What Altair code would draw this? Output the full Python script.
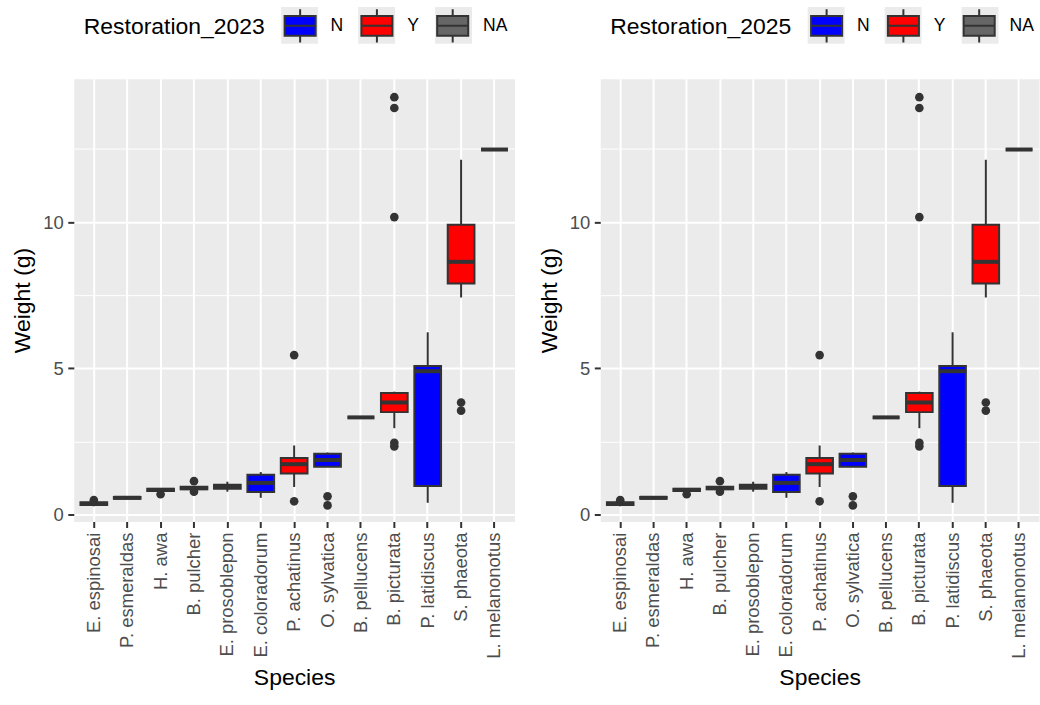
import altair as alt
import pandas as pd

# ---------------- data ----------------
species = ["E. espinosai", "P. esmeraldas", "H. awa", "B. pulcher", "E. prosoblepon",
           "E. coloradorum", "P. achatinus", "O. sylvatica", "B. pellucens",
           "B. picturata", "P. latidiscus", "S. phaeota", "L. melanonotus"]
restoration = ["NA", "NA", "NA", "NA", "NA", "N", "Y", "N", "NA", "Y", "N", "Y", "NA"]
whisker_low = [0.28, 0.53, 0.78, 0.84, 0.78, 0.57, 0.94, 1.63, 3.32, 2.95, 0.40, 7.42, 12.48]
q1 =          [0.32, 0.54, 0.80, 0.86, 0.88, 0.77, 1.40, 1.63, 3.32, 3.50, 0.97, 7.90, 12.48]
median =      [0.36, 0.57, 0.84, 0.90, 0.95, 1.08, 1.72, 1.86, 3.32, 3.83, 4.90, 8.64, 12.48]
q3 =          [0.42, 0.60, 0.88, 0.95, 1.02, 1.36, 1.93, 2.08, 3.32, 4.15, 5.08, 9.91, 12.48]
whisker_high = [0.45, 0.61, 0.90, 0.97, 1.12, 1.45, 2.36, 2.12, 3.32, 4.20, 6.23, 12.13, 12.48]

outlier_species = ["E. espinosai", "H. awa", "B. pulcher", "B. pulcher",
                   "P. achatinus", "P. achatinus", "O. sylvatica", "O. sylvatica",
                   "B. picturata", "B. picturata", "B. picturata", "B. picturata", "B. picturata",
                   "S. phaeota", "S. phaeota"]
outlier_weight = [0.49, 0.69, 1.14, 0.78,
                  0.45, 5.45, 0.62, 0.31,
                  2.33, 2.45, 10.17, 13.90, 14.27,
                  3.55, 3.83]

categories = ["N", "Y", "NA"]
fill_colors = ["#0000FF", "#FF0000", "#666666"]
key_bg_domain = ["N_bg", "Y_bg", "NA_bg"]
key_bg_colors = ["#EBEBEB", "#EBEBEB", "#EBEBEB"]
y_ticks = [0, 2.5, 5, 7.5, 10, 12.5]
y_domain = [-0.24, 14.9]
legend_titles = ["Restoration_2023", "Restoration_2025"]

FONT = "Liberation Sans"
BOX_PATH = ("M-0.89,-0.57H0.89V0.57H-0.89Z M0,-0.57V-0.95 M0,0.57V0.95 M-0.89,0H0.89")

box_df = pd.DataFrame({
    "Species": species, "Restoration": restoration,
    "Key": [r + "_bg" for r in restoration],
    "lo": whisker_low, "q1": q1, "median": median, "q3": q3, "hi": whisker_high,
})
out_df = pd.DataFrame({"Species": outlier_species, "Weight": outlier_weight})

LEG_COMMON = dict(
    orient="none", legendY=-72, direction="horizontal",
    labelFontSize=17.6, labelFont=FONT, labelColor="black", labelOffset=12,
    symbolSize=1225, symbolStrokeWidth=2, padding=0,
)


def panel(legend_title, width):
    x = alt.X("Species:N", sort=species,
              scale=alt.Scale(domain=species, paddingInner=0.2, paddingOuter=0.2),
              axis=alt.Axis(title="Species", labelAngle=-90, grid=True, gridColor="white",
                            gridWidth=2, domain=False, tickColor="#333333", tickSize=6,
                            tickWidth=2, labelFontSize=18.5, labelColor="#4D4D4D",
                            labelPadding=4.6, labelFont=FONT, titleFont=FONT,
                            titleFontSize=23, titleFontWeight="normal", titleColor="black",
                            titlePadding=8))
    yaxis = alt.Axis(title="Weight (g)", values=y_ticks,
                     labelExpr="datum.value % 5 === 0 ? format(datum.value, 'd') : ''",
                     grid=True, gridColor="white",
                     gridWidth={"condition": {"test": "datum.value % 5 === 0", "value": 2},
                                "value": 1},
                     tickOpacity={"condition": {"test": "datum.value % 5 === 0", "value": 1},
                                  "value": 0},
                     domain=False, tickColor="#333333", tickSize=6, tickWidth=2,
                     labelFontSize=18.5, labelColor="#4D4D4D", labelPadding=4.6,
                     labelFont=FONT, titleFont=FONT, titleFontSize=23,
                     titleFontWeight="normal", titleColor="black", titlePadding=8)
    yscale = alt.Scale(domain=y_domain, nice=False, zero=False)

    base = alt.Chart(box_df)

    # invisible carrier layer: its legend draws the grey key backgrounds
    carrier = base.mark_point(filled=True, size=0, strokeWidth=0).encode(
        x=x,
        y=alt.Y("median:Q", scale=yscale, axis=yaxis),
        color=alt.Color("Key:N", scale=alt.Scale(domain=key_bg_domain, range=key_bg_colors),
                        legend=alt.Legend(title=None, symbolType="square",
                                          symbolStrokeColor="#EBEBEB", symbolOpacity=1,
                                          labelExpr="''", columnPadding=25.2,
                                          legendX=208, zindex=0, **LEG_COMMON)),
    )
    whiskers = base.mark_rule(color="#333333", strokeWidth=2).encode(
        x=x, y=alt.Y("lo:Q", scale=yscale, axis=yaxis), y2="hi:Q")
    boxes = base.mark_bar(stroke="#333333", strokeWidth=2).encode(
        x=x, y=alt.Y("q1:Q", scale=yscale, axis=yaxis), y2="q3:Q",
        fill=alt.Fill("Restoration:N", scale=alt.Scale(domain=categories, range=fill_colors),
                      legend=alt.Legend(title=legend_title, symbolType=BOX_PATH, zindex=1,
                                        symbolStrokeColor="#333333",
                                        legendX=10, titleOrient="left", titleFontSize=23,
                                        titleFont=FONT, titleFontWeight="normal",
                                        titleColor="black", titlePadding=16.5,
                                        titleLimit=400, titleBaseline="middle",
                                        titleAnchor="middle", columnPadding=13,
                                        **LEG_COMMON)),
    )
    medians = base.mark_tick(color="#333333", thickness=4, size=27, opacity=1).encode(
        x=x, y=alt.Y("median:Q", scale=yscale, axis=yaxis))
    outliers = alt.Chart(out_df).mark_circle(color="#333333", size=75, opacity=1).encode(
        x=x, y=alt.Y("Weight:Q", scale=yscale, axis=yaxis))

    return alt.layer(carrier, whiskers, boxes, medians, outliers).properties(
        width=width, height=444)


chart = alt.hconcat(panel(legend_titles[0], 442), panel(legend_titles[1], 440), spacing=22)
chart = chart.resolve_scale(fill="independent", color="independent").resolve_legend(
    fill="independent", color="independent")
chart = chart.properties(padding={"left": 11, "top": 5, "right": 0, "bottom": 0},
                         background="white")
chart = chart.configure_view(fill="#EBEBEB", stroke="transparent")

chart.save("out.html", embed_options={"renderer": "svg", "actions": False})
